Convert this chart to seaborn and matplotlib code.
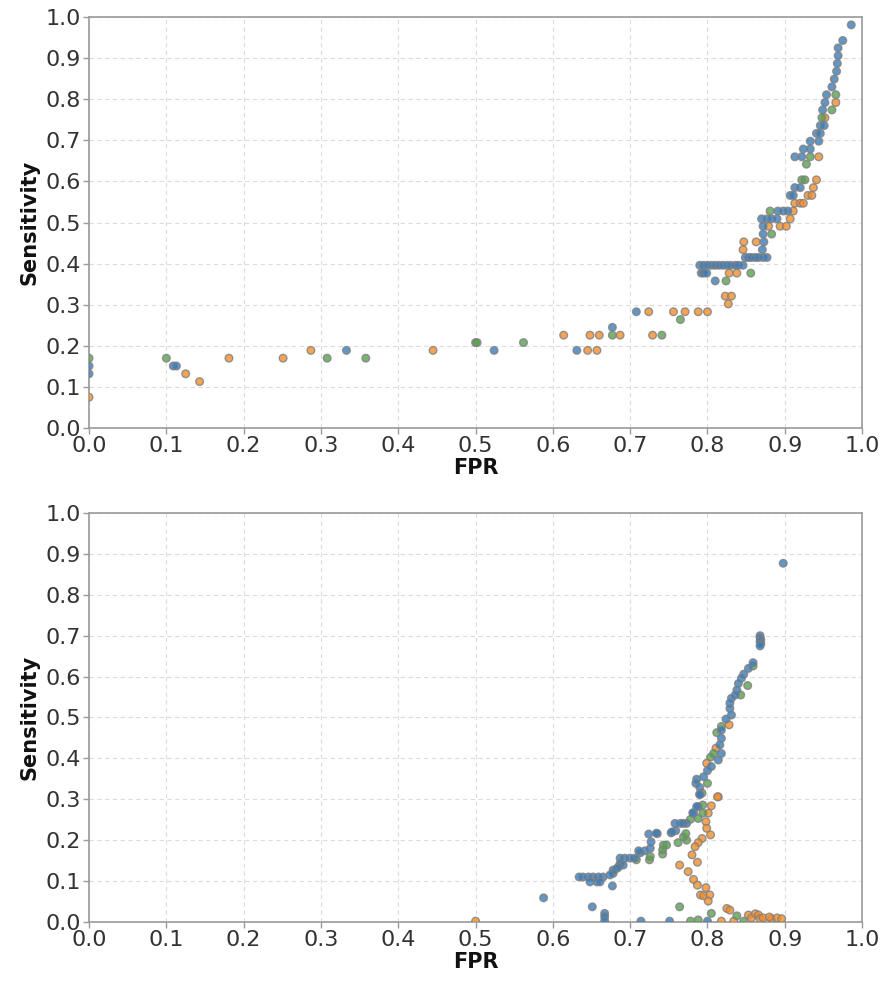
import numpy as np
import pandas as pd
import matplotlib
matplotlib.use("Agg")
import matplotlib.pyplot as plt
import seaborn as sns

# ---------------- upper panel ----------------
top_blue_fpr = [0.0, 0.0, 0.109, 0.113, 0.333, 0.524, 0.631, 0.677, 0.708, 0.810,
                0.792, 0.795, 0.799,
                0.790, 0.795, 0.800, 0.805, 0.810, 0.815, 0.820, 0.825, 0.830, 0.836, 0.840, 0.846,
                0.849, 0.853, 0.857, 0.862, 0.866, 0.872, 0.877,
                0.871, 0.873, 0.872, 0.872,
                0.870, 0.877, 0.883, 0.890,
                0.891, 0.898, 0.904,
                0.907, 0.911, 0.913, 0.920,
                0.913, 0.922, 0.924, 0.933, 0.933, 0.944, 0.941, 0.946, 0.946, 0.951,
                0.949, 0.952, 0.954, 0.961, 0.964, 0.967, 0.968, 0.969, 0.969, 0.975, 0.986]
top_blue_sens = [0.151, 0.132, 0.151, 0.151, 0.189, 0.189, 0.189, 0.245, 0.283, 0.358,
                 0.377, 0.377, 0.377,
                 0.396, 0.396, 0.396, 0.396, 0.396, 0.396, 0.396, 0.396, 0.396, 0.396, 0.396, 0.396,
                 0.415, 0.415, 0.415, 0.415, 0.415, 0.415, 0.415,
                 0.434, 0.453, 0.472, 0.491,
                 0.509, 0.509, 0.509, 0.509,
                 0.528, 0.528, 0.528,
                 0.566, 0.566, 0.585, 0.585,
                 0.660, 0.660, 0.679, 0.679, 0.698, 0.698, 0.717, 0.717, 0.736, 0.736,
                 0.774, 0.792, 0.811, 0.830, 0.849, 0.868, 0.887, 0.906, 0.925, 0.943, 0.981]

top_orange_fpr = [0.0, 0.125, 0.143, 0.181, 0.251, 0.287, 0.445, 0.614, 0.645, 0.657,
                  0.648, 0.660, 0.687, 0.729, 0.724, 0.756, 0.771, 0.788, 0.800,
                  0.823, 0.831, 0.827, 0.828, 0.838, 0.847, 0.863, 0.846,
                  0.879, 0.894, 0.902, 0.907, 0.913, 0.920, 0.924, 0.930, 0.935,
                  0.911, 0.937, 0.941, 0.944, 0.952, 0.966]
top_orange_sens = [0.075, 0.132, 0.113, 0.170, 0.170, 0.189, 0.189, 0.226, 0.189, 0.189,
                   0.226, 0.226, 0.226, 0.226, 0.283, 0.283, 0.283, 0.283, 0.283,
                   0.321, 0.321, 0.302, 0.377, 0.377, 0.453, 0.453, 0.434,
                   0.491, 0.491, 0.491, 0.509, 0.547, 0.547, 0.547, 0.566, 0.566,
                   0.528, 0.585, 0.604, 0.660, 0.755, 0.792]

top_green_fpr = [0.0, 0.100, 0.308, 0.358, 0.500, 0.502, 0.562, 0.677, 0.741, 0.765,
                 0.824, 0.856, 0.883, 0.881, 0.922, 0.926, 0.928, 0.933, 0.948, 0.961, 0.966]
top_green_sens = [0.170, 0.170, 0.170, 0.170, 0.208, 0.208, 0.208, 0.226, 0.226, 0.264,
                  0.358, 0.377, 0.472, 0.528, 0.604, 0.604, 0.642, 0.660, 0.755, 0.774, 0.811]

# ---------------- lower panel ----------------
bot_blue_fpr = [0.588, 0.651, 0.667, 0.667, 0.667, 0.714, 0.751, 0.800, 0.898,
                0.868, 0.868, 0.869, 0.868, 0.869, 0.868,
                0.859, 0.853, 0.847, 0.844, 0.840, 0.838, 0.836, 0.831, 0.829, 0.829,
                0.831, 0.824, 0.818, 0.818, 0.816, 0.818, 0.814, 0.805, 0.800, 0.795,
                0.786, 0.785, 0.790, 0.790, 0.790, 0.788, 0.786, 0.782, 0.781,
                0.773, 0.769, 0.765, 0.758, 0.759, 0.753, 0.754, 0.735, 0.734, 0.724,
                0.727, 0.726, 0.719, 0.713, 0.711, 0.706, 0.700, 0.693, 0.687,
                0.687, 0.691, 0.685, 0.683, 0.678, 0.678, 0.674,
                0.665, 0.659, 0.652, 0.646, 0.639, 0.634, 0.648, 0.657, 0.661, 0.677]
bot_blue_sens = [0.059, 0.037, 0.021, 0.013, 0.003, 0.002, 0.002, 0.002, 0.877,
                 0.700, 0.695, 0.690, 0.685, 0.680, 0.675,
                 0.634, 0.620, 0.606, 0.596, 0.583, 0.567, 0.555, 0.547, 0.535, 0.522,
                 0.506, 0.496, 0.469, 0.449, 0.433, 0.412, 0.396, 0.380, 0.370, 0.355,
                 0.349, 0.339, 0.329, 0.313, 0.311, 0.282, 0.282, 0.266, 0.267,
                 0.241, 0.241, 0.241, 0.241, 0.223, 0.218, 0.220, 0.216, 0.217, 0.215,
                 0.196, 0.180, 0.174, 0.169, 0.174, 0.156, 0.156, 0.156, 0.156,
                 0.143, 0.139, 0.135, 0.131, 0.127, 0.119, 0.115,
                 0.110, 0.110, 0.110, 0.110, 0.110, 0.110, 0.098, 0.098, 0.098, 0.088]

bot_orange_fpr = [0.500, 0.814, 0.813, 0.805, 0.801, 0.798, 0.799, 0.804, 0.793, 0.788,
                  0.784, 0.780, 0.787, 0.764, 0.775, 0.782, 0.787, 0.798, 0.791, 0.795,
                  0.803, 0.801, 0.825, 0.829, 0.818, 0.834, 0.853, 0.857, 0.862, 0.866,
                  0.868, 0.872, 0.883, 0.890, 0.896, 0.880, 0.799, 0.811, 0.828]
bot_orange_sens = [0.002, 0.306, 0.306, 0.284, 0.266, 0.245, 0.229, 0.213, 0.204, 0.194,
                   0.184, 0.164, 0.146, 0.139, 0.123, 0.104, 0.090, 0.084, 0.066, 0.064,
                   0.066, 0.051, 0.033, 0.029, 0.002, 0.002, 0.017, 0.010, 0.020, 0.017,
                   0.008, 0.010, 0.008, 0.010, 0.008, 0.012, 0.388, 0.425, 0.482]

bot_green_fpr = [0.708, 0.725, 0.726, 0.742, 0.742, 0.743, 0.747, 0.762, 0.773, 0.769,
                 0.772, 0.778, 0.788, 0.794, 0.794, 0.793, 0.800, 0.804, 0.808, 0.812,
                 0.818, 0.843, 0.852, 0.859, 0.764, 0.805, 0.838, 0.778, 0.788, 0.847]
bot_green_sens = [0.152, 0.152, 0.160, 0.166, 0.176, 0.188, 0.188, 0.194, 0.200, 0.208,
                  0.216, 0.251, 0.253, 0.266, 0.286, 0.315, 0.339, 0.403, 0.412, 0.463,
                  0.478, 0.555, 0.578, 0.626, 0.037, 0.021, 0.015, 0.002, 0.005, 0.002]

series_names = ["Model A", "Model B", "Model C"]
series_colors = ["#f28e2b", "#59a14f", "#3b7cb8"]


def build_frame(orange, green, blue):
    parts = []
    for name, (fpr, sens) in zip(series_names, [orange, green, blue]):
        parts.append(pd.DataFrame({"FPR": fpr, "Sensitivity": sens, "series": name}))
    return pd.concat(parts, ignore_index=True)


top_df = build_frame((top_orange_fpr, top_orange_sens),
                     (top_green_fpr, top_green_sens),
                     (top_blue_fpr, top_blue_sens))
bot_df = build_frame((bot_orange_fpr, bot_orange_sens),
                     (bot_green_fpr, bot_green_sens),
                     (bot_blue_fpr, bot_blue_sens))

sns.set_style("white")
plt.rcParams["font.family"] = ["DejaVu Sans"]

fig = plt.figure(figsize=(8.86, 9.92), dpi=100)
ax_top = fig.add_axes([0.1005, 0.5685, 0.8725, 0.4143])
ax_bot = fig.add_axes([0.1005, 0.0706, 0.8725, 0.4123])

ticks = np.round(np.arange(0, 1.01, 0.1), 1)
for ax, df in [(ax_top, top_df), (ax_bot, bot_df)]:
    sns.scatterplot(data=df, x="FPR", y="Sensitivity", hue="series",
                    hue_order=series_names, palette=series_colors,
                    s=30, alpha=0.8, edgecolor="#7f7f7f", linewidth=1.0,
                    legend=False, ax=ax, zorder=3)
    ax.set_xlim(0, 1)
    ax.set_ylim(0, 1)
    ax.set_xticks(ticks)
    ax.set_yticks(ticks)
    ax.set_xticklabels([f"{t:.1f}" for t in ticks])
    ax.set_yticklabels([f"{t:.1f}" for t in ticks])
    ax.grid(True, color="#dcdcdc", linestyle=(0, (4, 3)), linewidth=0.8, zorder=0)
    ax.set_axisbelow(True)
    for sp in ax.spines.values():
        sp.set_color("#9a9a9a")
        sp.set_linewidth(1.2)
    ax.tick_params(axis="both", labelsize=16, labelcolor="#333333", color="#9a9a9a",
                   length=4, width=1, direction="out", pad=2,
                   bottom=True, left=True)
    ax.set_xlabel("FPR", fontsize=15, fontweight="bold", color="#111111", labelpad=1)
    ax.set_ylabel("Sensitivity", fontsize=15, fontweight="bold", color="#111111", labelpad=4)

fig.savefig("out.png", dpi=100)
